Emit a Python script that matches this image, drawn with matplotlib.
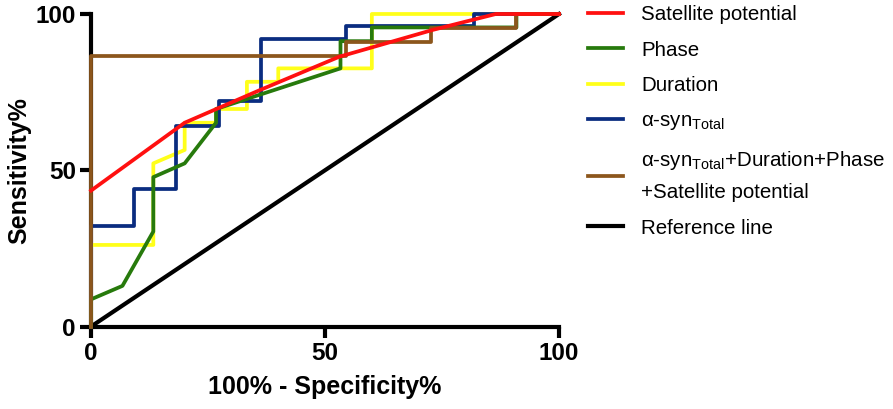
import matplotlib
matplotlib.use("Agg")
import matplotlib.pyplot as plt

plt.rcParams['font.family'] = ['Liberation Sans', 'DejaVu Sans']
plt.rcParams['mathtext.fontset'] = 'custom'
plt.rcParams['mathtext.rm'] = 'Liberation Sans'
plt.rcParams['mathtext.it'] = 'Liberation Sans'

# ROC curves, values (percent)
sat_x = [0, 20, 36, 53, 73, 86.5, 100]
sat_y = [43.5, 65.2, 75.6, 86.3, 94.9, 100, 100]

phase_x = [0, 0, 6.7, 13.3, 13.3, 20, 26.7, 26.7, 53.3, 53.3, 60, 60, 90.9, 90.9, 100]
phase_y = [0, 8.7, 13.0, 30.4, 47.8, 52.2, 65.2, 69.6, 82.6, 91.3, 91.3, 95.7, 95.7, 100, 100]

dur_x = [0, 0, 13.3, 13.3, 20, 20, 26.7, 26.7, 33.3, 33.3, 40, 40, 60, 60, 100]
dur_y = [0, 26.1, 26.1, 52.2, 56.5, 65.2, 65.2, 69.6, 69.6, 78.3, 78.3, 82.6, 82.6, 100, 100]

syn_x = [0, 0, 9.1, 9.1, 18.2, 18.2, 27.3, 27.3, 36.4, 36.4, 54.5, 54.5, 81.8, 81.8, 100]
syn_y = [0, 32, 32, 44, 44, 64, 64, 72, 72, 92, 92, 96, 96, 100, 100]

comb_x = [0, 0, 54.5, 54.5, 72.7, 72.7, 90.9, 90.9, 100]
comb_y = [0, 86.5, 86.5, 91.0, 91.0, 95.5, 95.5, 100, 100]

ref_x = [0, 100]
ref_y = [0, 100]

fig = plt.figure(figsize=(8.93, 4.09), dpi=100)
ax = fig.add_axes([0.102, 0.2017, 0.524, 0.7641])

lw = 2.7
ax.plot(ref_x, ref_y, color='black', lw=3.0, clip_on=False, zorder=2, label='Reference line')
ax.plot(dur_x, dur_y, color='#FFFF1A', lw=lw, clip_on=False, zorder=3, label='Duration')
ax.plot(syn_x, syn_y, color='#0A2C80', lw=lw, clip_on=False, zorder=4, label=r'α-syn$_{\mathrm{Total}}$')
ax.plot(phase_x, phase_y, color='#277A0C', lw=lw, clip_on=False, zorder=5, label='Phase')
ax.plot(comb_x, comb_y, color='#8C561C', lw=lw, clip_on=False, zorder=6,
        label='α-syn$_{\\mathrm{Total}}$+Duration+Phase\n+Satellite potential')
ax.plot(sat_x, sat_y, color='#FF1010', lw=lw, clip_on=False, zorder=7, label='Satellite potential')

ax.set_xlim(0, 100)
ax.set_ylim(0, 100)
ax.set_xticks([0, 50, 100])
ax.set_yticks([0, 50, 100])
for s in ['top', 'right']:
    ax.spines[s].set_visible(False)
for s in ['left', 'bottom']:
    ax.spines[s].set_linewidth(3.0)
ax.tick_params(width=3.0, length=8, labelsize=17.5, pad=3)
for t in ax.get_xticklabels() + ax.get_yticklabels():
    t.set_fontweight('bold')
ax.set_xlabel('100% - Specificity%', fontsize=18, fontweight='bold', labelpad=7)
ax.set_ylabel('Sensitivity%', fontsize=18, fontweight='bold', labelpad=3)

h, l = ax.get_legend_handles_labels()
order = [5, 3, 1, 2, 4, 0]
leg = fig.legend([h[i] for i in order], [l[i] for i in order], loc='upper left',
                 bbox_to_anchor=(0.655, 0.995), frameon=False, fontsize=14.8,
                 handlelength=1.7, handletextpad=0.9, labelspacing=0.8,
                 borderaxespad=0, borderpad=0.15)
leg.get_texts()[4].set_linespacing(1.75)

fig.savefig('out.png', dpi=100)
